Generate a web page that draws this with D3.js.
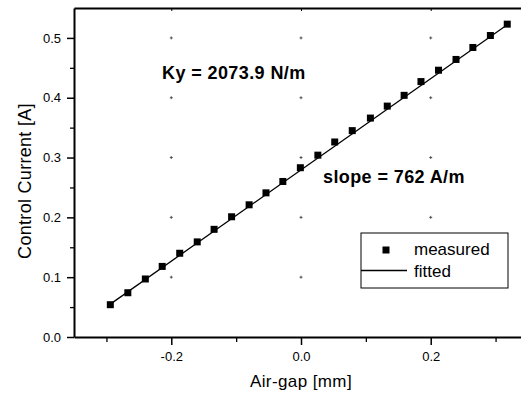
<!DOCTYPE html>
<html>
<head>
<meta charset="utf-8">
<script src="https://cdn.jsdelivr.net/npm/d3@7"></script>
<style>
  body { margin: 0; background: #fff; }
  svg { display: block; font-family: "Liberation Sans", Arial, sans-serif; }
  .axis path, .axis line { stroke: #000; }
  .axis text { font-size: 13px; fill: #000; }
</style>
</head>
<body>
<svg id="chart"></svg>
<script>
// air-gap [mm] of each measurement
var airGap = [-0.294, -0.267, -0.240, -0.214, -0.187, -0.160, -0.134, -0.107,
              -0.080, -0.054, -0.028, -0.001, 0.026, 0.052, 0.079, 0.107,
              0.133, 0.159, 0.185, 0.212, 0.239, 0.265, 0.292, 0.318];
// control current [A]
var current = [0.054, 0.074, 0.097, 0.118, 0.140, 0.159, 0.180, 0.201,
               0.221, 0.241, 0.260, 0.283, 0.304, 0.326, 0.345, 0.366,
               0.386, 0.404, 0.427, 0.446, 0.464, 0.484, 0.504, 0.523];
// fitted line ends
var fitGap = [-0.294, 0.318];
var fitCurrent = [0.055, 0.522];

var xMajor = [-0.2, 0.0, 0.2];
var xMinor = [-0.3, -0.1, 0.1, 0.3];
var yMajor = [0.0, 0.1, 0.2, 0.3, 0.4, 0.5];
var yMinor = [0.05, 0.15, 0.25, 0.35, 0.45];
var gridX = [-0.2, 0.0, 0.2];
var gridY = [0.1, 0.2, 0.3, 0.4, 0.5];

var notes = ["Ky = 2073.9 N/m", "slope = 762 A/m"];
var legendLabels = ["measured", "fitted"];

(function () {
  var W = 521, H = 396;
  var margin = {top: 8, left: 74};
  var width = 454, height = 329;

  var svg = d3.select("#chart").attr("width", W).attr("height", H);
  var g = svg.append("g")
      .attr("transform", "translate(" + margin.left + "," + margin.top + ")");

  var x = d3.scaleLinear().domain([-0.35, 0.35]).range([0, width]),
      y = d3.scaleLinear().domain([0, 0.55]).range([height, 0]);

  // plain hyphen for negatives, like the original
  var fmt = function(d) { return d.toFixed(1).replace("-0.0", "0.0"); };

  // grid crosses at major intersections
  var cross = [];
  gridX.forEach(function(gx) { gridY.forEach(function(gy) { cross.push([gx, gy]); }); });
  g.selectAll(".cross").data(cross).enter().append("path")
    .attr("class", "cross")
    .attr("d", function(d) {
      var cx = x(d[0]), cy = y(d[1]);
      return "M" + (cx - 1.5) + "," + cy + "h3M" + cx + "," + (cy - 1.5) + "v3";
    })
    .style("stroke", "#333")
    .style("stroke-width", 0.8);

  // minor ticks
  g.append("g")
    .attr("class", "axis")
    .attr("transform", "translate(0," + height + ")")
    .call(d3.axisBottom(x).tickValues(xMinor).tickSize(5).tickFormat(""))
    .call(function(a) { a.select(".domain").remove(); })
    .selectAll("line").style("stroke-width", 1.3);
  g.append("g")
    .attr("class", "axis")
    .call(d3.axisLeft(y).tickValues(yMinor).tickSize(4).tickFormat(""))
    .call(function(a) { a.select(".domain").remove(); })
    .selectAll("line").style("stroke-width", 1.3);

  // major axes
  var xAxis = g.append("g")
    .attr("class", "axis axis--x")
    .attr("transform", "translate(0," + height + ")")
    .call(d3.axisBottom(x).tickValues(xMajor).tickSize(8).tickSizeOuter(0)
      .tickPadding(7).tickFormat(fmt));
  xAxis.select(".domain").style("stroke-width", 2);
  xAxis.selectAll("line").style("stroke-width", 1.5);

  var yAxis = g.append("g")
    .attr("class", "axis axis--y")
    .call(d3.axisLeft(y).tickValues(yMajor).tickSize(7).tickSizeOuter(0)
      .tickPadding(6).tickFormat(fmt));
  yAxis.select(".domain").style("stroke-width", 2);
  yAxis.selectAll("line").style("stroke-width", 1.5);

  var topAxis = g.append("g")
    .attr("class", "axis")
    .call(d3.axisTop(x).tickValues(xMajor).tickSize(-3).tickSizeOuter(0).tickFormat(""));
  topAxis.select(".domain").style("stroke-width", 2);

  // fitted line
  var line = d3.line()
      .x(function(d) { return x(d[0]); })
      .y(function(d) { return y(d[1]); });
  g.append("path")
    .datum(d3.zip(fitGap, fitCurrent))
    .attr("d", line)
    .style("fill", "none")
    .style("stroke", "#000")
    .style("stroke-width", 1.3);

  // measured points
  var s = 7;
  g.selectAll(".pt").data(d3.zip(airGap, current)).enter().append("rect")
    .attr("class", "pt")
    .attr("x", function(d) { return x(d[0]) - s / 2; })
    .attr("y", function(d) { return y(d[1]) - s / 2; })
    .attr("width", s).attr("height", s)
    .style("fill", "#000");

  // annotations
  svg.append("text")
    .attr("x", 162).attr("y", 79)
    .style("font-size", "18px").style("font-weight", "bold")
    .style("letter-spacing", "0.4px")
    .text(notes[0]);
  svg.append("text")
    .attr("x", 323).attr("y", 183)
    .style("font-size", "18px").style("font-weight", "bold")
    .style("letter-spacing", "0.4px")
    .text(notes[1]);

  // axis titles
  svg.append("text")
    .attr("x", margin.left + x(0)).attr("y", 387)
    .style("font-size", "17px").style("text-anchor", "middle")
    .style("letter-spacing", "0.4px")
    .text("Air-gap [mm]");
  svg.append("text")
    .attr("transform", "translate(31,181) rotate(-90)")
    .style("font-size", "18px").style("text-anchor", "middle")
    .style("letter-spacing", "0.3px")
    .text("Control Current [A]");

  // legend
  var lg = svg.append("g").attr("transform", "translate(361,233)");
  lg.append("rect")
    .attr("width", 147).attr("height", 55)
    .style("fill", "#fff").style("stroke", "#000").style("stroke-width", 1);
  lg.append("rect")
    .attr("x", 21.5).attr("y", 13.5).attr("width", s).attr("height", s)
    .style("fill", "#000");
  lg.append("line")
    .attr("x1", 0).attr("x2", 46).attr("y1", 37.5).attr("y2", 37.5)
    .style("stroke", "#000").style("stroke-width", 1.3);
  lg.selectAll(".lt").data(legendLabels).enter().append("text")
    .attr("class", "lt")
    .attr("x", 53)
    .attr("y", function(d, i) { return 22 + i * 22; })
    .style("font-size", "17px")
    .text(function(d) { return d; });
})();
</script>
</body>
</html>
